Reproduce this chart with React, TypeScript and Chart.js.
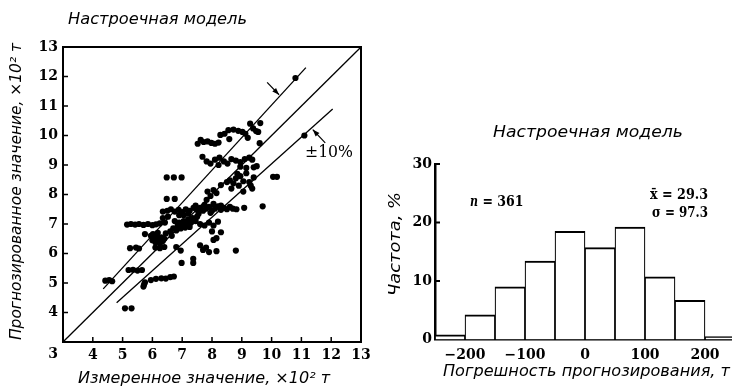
import React, { useEffect, useRef } from "react";
import { Chart, registerables } from "chart.js";

Chart.register(...registerables);

// ---------- Left panel: measured vs predicted (x10^2 т) ----------
const scatterPoints: [number, number][] = [
  [4.42, 5.08], [4.55, 5.1], [4.65, 5.06],
  [5.08, 4.14], [5.3, 4.14],
  [5.2, 5.44], [5.35, 5.45], [5.5, 5.42], [5.65, 5.44],
  [5.7, 4.88], [5.75, 5.02], [5.72, 4.95], [5.95, 5.1], [6.12, 5.14], [6.3, 5.16], [6.45, 5.15], [6.6, 5.2], [6.72, 5.22],
  [5.25, 6.18], [5.45, 6.2], [5.55, 6.17], [5.75, 6.66],
  [5.15, 6.98], [5.28, 7.0], [5.42, 6.98], [5.55, 7.0], [5.7, 6.97], [5.85, 7.0], [6.0, 6.96], [6.12, 6.99], [6.25, 7.02], [6.42, 7.05],
  [5.95, 6.6], [6.0, 6.45], [6.05, 6.52], [6.1, 6.38], [6.15, 6.55], [6.2, 6.45], [6.25, 6.35], [6.3, 6.55], [6.35, 6.42], [6.4, 6.5],
  [6.02, 6.66], [6.18, 6.7], [6.45, 6.68], [6.1, 6.2], [6.25, 6.18], [6.4, 6.22],
  [6.35, 7.2], [6.52, 7.25], [6.48, 7.85], [6.75, 7.85],
  [6.48, 8.58], [6.72, 8.58], [6.98, 8.58],
  [6.6, 6.75], [6.7, 6.85], [6.8, 6.78], [6.85, 6.95], [6.9, 7.05], [6.95, 6.85], [7.0, 6.95], [7.05, 7.1], [7.1, 6.88],
  [7.15, 7.0], [7.2, 7.15], [7.25, 6.9], [7.3, 7.05], [7.35, 7.2], [6.75, 7.1], [6.9, 7.3], [7.05, 7.3], [7.2, 7.35],
  [7.45, 7.1], [7.5, 7.25], [6.65, 6.6],
  [6.35, 7.42], [6.5, 7.45], [6.62, 7.5], [6.75, 7.42], [6.88, 7.48], [7.0, 7.4], [7.12, 7.5], [7.25, 7.45], [7.38, 7.55],
  [7.5, 7.48], [7.6, 7.55], [7.7, 7.45], [7.8, 7.52], [7.9, 7.58], [8.0, 7.45], [8.1, 7.52], [8.2, 7.6], [8.3, 7.48],
  [8.4, 7.55], [8.5, 7.5], [8.6, 7.58], [8.7, 7.52], [8.82, 7.5], [7.45, 7.62], [7.75, 7.65], [8.05, 7.68], [8.3, 7.62],
  [7.55, 7.35], [7.95, 7.38], [9.08, 7.55], [9.7, 7.6],
  [7.82, 7.82], [7.95, 7.95], [8.15, 8.05],
  [7.6, 7.0], [7.75, 6.95], [7.9, 7.05], [8.05, 6.95], [8.2, 7.08], [8.0, 6.75], [8.3, 6.72], [8.05, 6.46], [8.15, 6.52],
  [7.6, 6.28], [7.7, 6.12], [7.8, 6.2], [7.9, 6.05], [8.15, 6.08], [8.8, 6.1],
  [6.8, 6.22], [6.95, 6.1], [6.98, 5.68], [7.37, 5.82], [7.37, 5.68],
  [7.85, 8.1], [8.05, 8.15], [8.3, 8.32], [8.5, 8.42], [8.6, 8.48], [8.72, 8.38], [8.8, 8.55], [8.85, 8.7], [8.95, 8.62],
  [9.05, 8.45], [9.15, 8.72], [9.25, 8.42], [9.3, 8.3], [9.4, 8.58], [9.05, 8.1], [9.35, 8.2], [8.65, 8.2], [8.9, 8.3],
  [10.05, 8.6], [10.18, 8.6],
  [7.68, 9.28], [7.82, 9.12], [7.95, 9.05], [8.1, 9.18], [8.25, 9.25], [8.4, 9.12], [8.52, 9.05], [8.65, 9.2], [8.8, 9.15],
  [8.95, 9.1], [9.1, 9.2], [9.25, 9.25], [9.35, 9.18], [8.95, 8.94], [9.15, 8.9], [9.4, 8.92], [9.5, 8.96], [8.22, 9.0],
  [7.52, 9.72], [7.62, 9.85], [7.72, 9.78], [7.85, 9.8], [7.98, 9.75], [8.1, 9.72], [8.22, 9.76], [8.28, 10.02], [8.42, 10.06],
  [8.58, 9.88], [8.55, 10.18], [8.72, 10.2], [8.88, 10.16], [9.02, 10.12], [9.12, 10.06], [9.2, 9.92], [9.28, 10.4],
  [9.38, 10.24], [9.48, 10.15], [9.55, 10.12], [9.62, 10.42], [9.6, 9.74],
  [10.8, 11.95], [11.1, 10.0],
];

const diagX = [3, 13];
const diagY = [3, 13];
const upperX = [4.35, 11.15];
const upperY = [4.8, 12.3];
const lowerX = [4.8, 12.05];
const lowerY = [4.33, 10.9];
const xTickValues = [3, 4, 5, 6, 7, 8, 9, 10, 11, 12, 13];
const yTickValues = [4, 5, 6, 7, 8, 9, 10, 11, 12, 13];

// ---------- Right panel: error histogram ----------
const binEdges = [-250, -200, -150, -100, -50, 0, 50, 100, 150, 200, 250];
const binFreq = [0.8, 4.2, 9.0, 13.4, 18.5, 15.7, 19.2, 10.7, 6.7, 0.5];
const histXTicks = [-200, -100, 0, 100, 200];
const histYTicks = [0, 10, 20, 30];

const TITLE = "Настроечная модель";
const numFont = { family: "'DejaVu Serif', serif", size: 14, weight: "bold" as const };
const italicFont = "italic 15px 'DejaVu Sans', sans-serif";

function fitText(ctx: CanvasRenderingContext2D, text: string, cx: number, cy: number, width: number, font: string, angle = 0) {
  ctx.save();
  ctx.font = font;
  const w = ctx.measureText(text).width || 1;
  ctx.translate(cx, cy);
  if (angle) ctx.rotate(angle);
  ctx.scale(width / w, 1);
  ctx.textAlign = "center";
  ctx.textBaseline = "middle";
  ctx.fillStyle = "#000";
  ctx.fillText(text, 0, 0);
  ctx.restore();
}

function seg(ctx: CanvasRenderingContext2D, x1: number, y1: number, x2: number, y2: number) {
  ctx.beginPath();
  ctx.moveTo(x1, y1);
  ctx.lineTo(x2, y2);
  ctx.stroke();
}

function arrow(ctx: CanvasRenderingContext2D, x1: number, y1: number, x2: number, y2: number) {
  seg(ctx, x1, y1, x2, y2);
  const a = Math.atan2(y2 - y1, x2 - x1);
  const L = 7, W = 2.6;
  ctx.beginPath();
  ctx.moveTo(x2, y2);
  ctx.lineTo(x2 - L * Math.cos(a) + W * Math.sin(a), y2 - L * Math.sin(a) - W * Math.cos(a));
  ctx.lineTo(x2 - L * Math.cos(a) - W * Math.sin(a), y2 - L * Math.sin(a) + W * Math.cos(a));
  ctx.closePath();
  ctx.fill();
}

const leftDecor = {
  id: "leftDecor",
  afterDraw(chart: any) {
    const { ctx, chartArea: a } = chart;
    const x = chart.scales.x, y = chart.scales.y;
    ctx.save();
    ctx.strokeStyle = "#000";
    ctx.fillStyle = "#000";
    ctx.lineWidth = 2;
    ctx.strokeRect(a.left, a.top, a.right - a.left, a.bottom - a.top);
    ctx.lineWidth = 1.5;
    yTickValues.forEach((v) => {
      const py = y.getPixelForValue(v);
      seg(ctx, a.left, py, a.left + 5, py);
    });
    xTickValues.forEach((v) => {
      const px = x.getPixelForValue(v);
      seg(ctx, px, a.bottom, px, a.bottom - 5);
    });
    // corner "3"
    ctx.font = "bold 14px 'DejaVu Serif', serif";
    ctx.textAlign = "center";
    ctx.textBaseline = "middle";
    ctx.fillText("3", x.getPixelForValue(3) - 10, a.bottom + 12);
    // ±10% arrows
    ctx.lineWidth = 1.2;
    arrow(ctx, x.getPixelForValue(9.85), y.getPixelForValue(11.8), x.getPixelForValue(10.25), y.getPixelForValue(11.38));
    arrow(ctx, x.getPixelForValue(11.8), y.getPixelForValue(9.75), x.getPixelForValue(11.38), y.getPixelForValue(10.2));
    fitText(ctx, "±10%", 329, 153, 48, "16px 'DejaVu Serif', serif");
    // titles
    fitText(ctx, TITLE, 157.5, 20, 179, italicFont);
    fitText(ctx, "Измеренное значение, ×10² т", 204, 379, 252, italicFont);
    fitText(ctx, "Прогнозированное значение, ×10² т", 17, 191.5, 297, italicFont, -Math.PI / 2);
    ctx.restore();
  },
};

const rightDecor = {
  id: "rightDecor",
  afterDraw(chart: any) {
    const { ctx, chartArea: a } = chart;
    const y = chart.scales.y;
    ctx.save();
    ctx.strokeStyle = "#000";
    ctx.lineWidth = 2;
    histYTicks.forEach((v) => {
      if (v === 0) return;
      const py = y.getPixelForValue(v);
      seg(ctx, a.left, py, a.left + 5, py);
    });
    fitText(ctx, TITLE, 208, 133, 190, italicFont);
    fitText(ctx, "n", 94, 202, 8, "italic bold 15px 'DejaVu Serif', serif");
    fitText(ctx, "= 361", 123, 202, 41, "bold 15px 'DejaVu Serif', serif");
    fitText(ctx, "x\u0304 = 29.3", 299, 195, 58, "bold 15px 'DejaVu Serif', serif");
    fitText(ctx, "σ = 97.3", 300, 213.5, 56, "bold 15px 'DejaVu Serif', serif");
    fitText(ctx, "Погрешность прогнозирования, т", 206.5, 372, 287, italicFont);
    fitText(ctx, "Частота, %", 16, 244, 104, italicFont, -Math.PI / 2);
    ctx.restore();
  },
};

function lineDataset(xs: number[], ys: number[]) {
  return {
    type: "line" as const,
    data: xs.map((v, i) => ({ x: v, y: ys[i] })),
    borderColor: "#000",
    borderWidth: 1.3,
    pointRadius: 0,
    showLine: true,
    fill: false,
  };
}

function ScatterPanel() {
  const ref = useRef<HTMLCanvasElement>(null);
  useEffect(() => {
    const chart = new Chart(ref.current as HTMLCanvasElement, {
      type: "scatter",
      data: {
        datasets: [
          {
            data: scatterPoints.map(([x, y]) => ({ x, y })),
            pointRadius: 3.1,
            pointBackgroundColor: "#000",
            pointBorderWidth: 0,
            pointBorderColor: "#000",
          },
          lineDataset(diagX, diagY) as any,
          lineDataset(upperX, upperY) as any,
          lineDataset(lowerX, lowerY) as any,
        ],
      },
      options: {
        responsive: false,
        animation: false,
        devicePixelRatio: 1,
        layout: { padding: { left: 0, top: 47, right: 19, bottom: 0 } },
        plugins: { legend: { display: false }, tooltip: { enabled: false } },
        scales: {
          x: {
            type: "linear",
            min: 3,
            max: 13,
            grid: { display: false, drawTicks: false },
            border: { display: false },
            ticks: {
              padding: 5,
              font: numFont,
              color: "#000",
              autoSkip: false,
              maxRotation: 0,
              callback: (v: any) => (v === 3 ? "" : String(v)),
            },
            afterBuildTicks: (s: any) => {
              s.ticks = xTickValues.map((v) => ({ value: v }));
            },
            afterFit: (s: any) => {
              s.height = 47;
            },
          },
          y: {
            type: "linear",
            min: 3,
            max: 13,
            grid: { display: false, drawTicks: false },
            border: { display: false },
            ticks: { padding: 5, font: numFont, color: "#000", autoSkip: false },
            afterBuildTicks: (s: any) => {
              s.ticks = yTickValues.map((v) => ({ value: v }));
            },
            afterFit: (s: any) => {
              s.width = 63;
            },
          },
        },
      },
      plugins: [leftDecor],
    });
    return () => chart.destroy();
  }, []);
  return (
    <canvas
      ref={ref}
      width={380}
      height={389}
      style={{ position: "absolute", left: 0, top: 0, width: 380, height: 389 }}
    />
  );
}

function HistogramPanel() {
  const ref = useRef<HTMLCanvasElement>(null);
  useEffect(() => {
    const chart = new Chart(ref.current as HTMLCanvasElement, {
      type: "bar",
      data: {
        datasets: [
          {
            data: binFreq.map((f, i) => ({ x: (binEdges[i] + binEdges[i + 1]) / 2, y: f })) as any,
            backgroundColor: "#fff",
            borderColor: "#000",
            borderWidth: { top: 2, left: 1.2, right: 1.2, bottom: 0 },
            borderSkipped: false,
            barPercentage: 1,
            categoryPercentage: 1,
          },
        ],
      },
      options: {
        responsive: false,
        animation: false,
        devicePixelRatio: 1,
        layout: { padding: { left: 0, top: 164, right: 1, bottom: 0 } },
        plugins: { legend: { display: false }, tooltip: { enabled: false } },
        scales: {
          x: {
            type: "linear",
            min: -250,
            max: 250,
            offset: false,
            grid: { display: false, drawTicks: false, offset: false },
            border: { display: true, color: "#000", width: 2.5 },
            ticks: {
              padding: 7,
              font: numFont,
              color: "#000",
              autoSkip: false,
              maxRotation: 0,
              callback: (v: any) => (v < 0 ? "−" + Math.abs(v) : String(v)),
            },
            afterBuildTicks: (s: any) => {
              s.ticks = histXTicks.map((v) => ({ value: v }));
            },
            afterFit: (s: any) => {
              s.height = 49.5;
            },
          },
          y: {
            type: "linear",
            min: 0,
            max: 30,
            grid: { display: false, drawTicks: false },
            border: { display: true, color: "#000", width: 2.5 },
            ticks: { padding: 3, font: numFont, color: "#000", autoSkip: false },
            afterBuildTicks: (s: any) => {
              s.ticks = histYTicks.map((v) => ({ value: v }));
            },
            afterFit: (s: any) => {
              s.width = 55;
            },
          },
        },
      },
      plugins: [rightDecor],
    });
    return () => chart.destroy();
  }, []);
  return (
    <canvas
      ref={ref}
      width={356}
      height={389}
      style={{ position: "absolute", left: 380, top: 0, width: 356, height: 389 }}
    />
  );
}

export default function App() {
  return (
    <div
      style={{
        position: "fixed",
        left: 0,
        top: 0,
        width: 732,
        height: 389,
        overflow: "hidden",
        background: "#fff",
      }}
    >
      <ScatterPanel />
      <HistogramPanel />
    </div>
  );
}
